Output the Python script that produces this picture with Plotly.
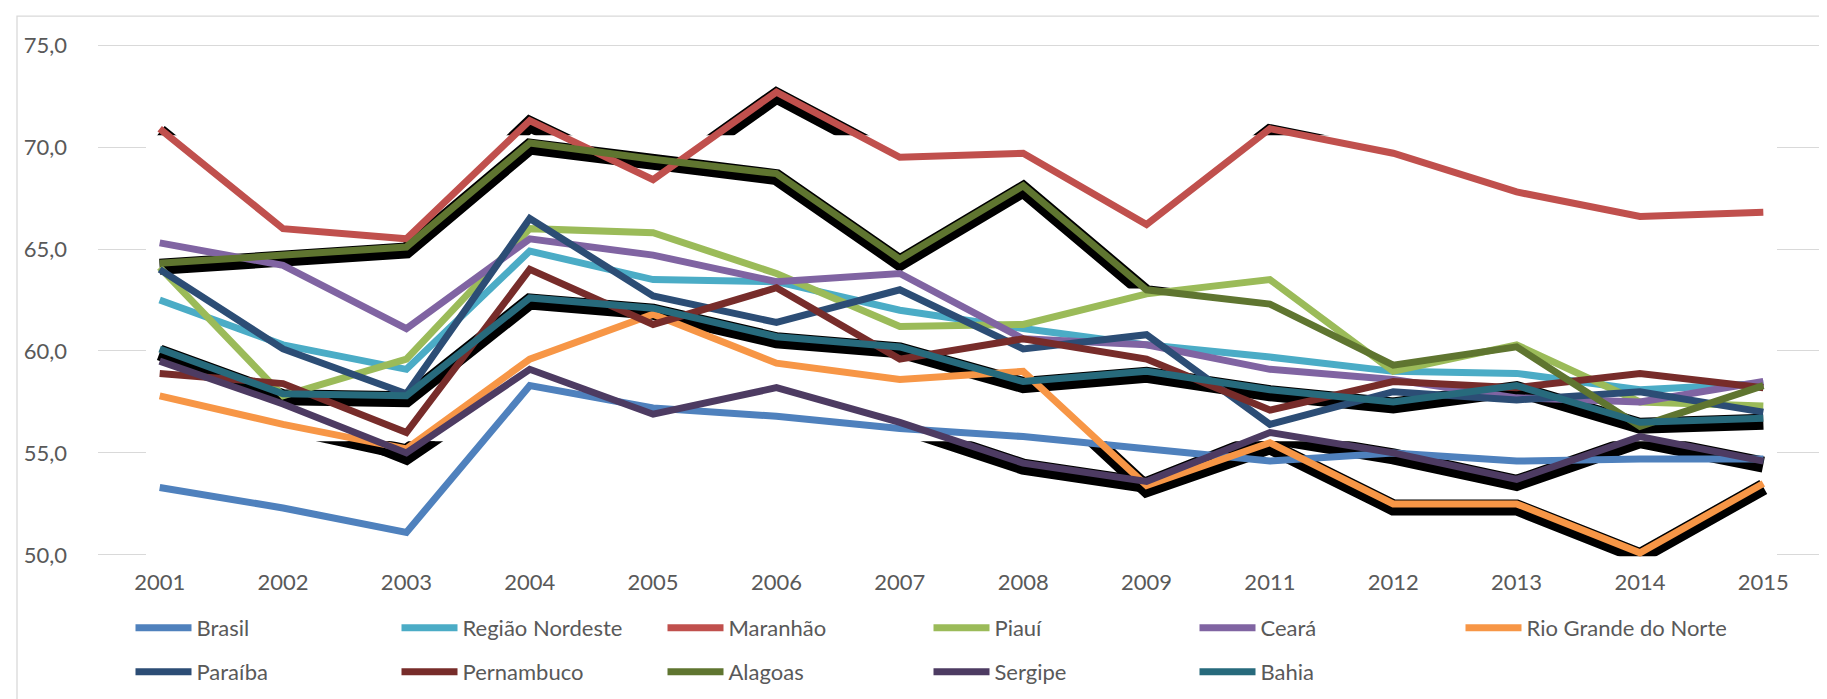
import plotly.graph_objects as go

# ---------------- data ----------------
years = ['2001', '2002', '2003', '2004', '2005', '2006', '2007',
         '2008', '2009', '2011', '2012', '2013', '2014', '2015']

brasil = [53.3, 52.3, 51.1, 58.3, 57.2, 56.8, 56.2, 55.8, 55.2, 54.6, 55.0, 54.6, 54.7, 54.7]
regiao_nordeste = [62.5, 60.3, 59.1, 64.9, 63.5, 63.4, 62.0, 61.1, 60.3, 59.7, 59.0, 58.9, 58.1, 58.4]
maranhao = [70.9, 66.0, 65.5, 71.3, 68.4, 72.7, 69.5, 69.7, 66.2, 70.9, 69.7, 67.8, 66.6, 66.8]
piaui = [64.1, 57.8, 59.6, 66.0, 65.8, 63.8, 61.2, 61.3, 62.8, 63.5, 59.0, 60.3, 57.5, 57.3]
ceara = [65.3, 64.2, 61.1, 65.5, 64.7, 63.4, 63.8, 60.6, 60.3, 59.1, 58.6, 57.7, 57.5, 58.5]
rio_grande_do_norte = [57.8, 56.4, 55.2, 59.6, 61.8, 59.4, 58.6, 59.0, 53.4, 55.5, 52.5, 52.5, 50.1, 53.5]
paraiba = [64.0, 60.1, 57.9, 66.5, 62.7, 61.4, 63.0, 60.1, 60.8, 56.4, 58.0, 57.6, 58.0, 57.0]
pernambuco = [58.9, 58.4, 56.0, 64.0, 61.3, 63.1, 59.6, 60.6, 59.6, 57.1, 58.5, 58.2, 58.9, 58.2]
alagoas = [64.3, 64.7, 65.1, 70.2, 69.4, 68.7, 64.5, 68.1, 63.0, 62.3, 59.3, 60.2, 56.3, 58.3]
sergipe = [59.5, 57.4, 55.0, 59.1, 56.9, 58.2, 56.5, 54.5, 53.6, 56.0, 55.0, 53.7, 55.8, 54.6]
bahia = [60.1, 57.9, 57.8, 62.6, 62.1, 60.7, 60.2, 58.5, 59.0, 58.1, 57.5, 58.3, 56.5, 56.7]

series_names = ['Brasil', 'Região Nordeste', 'Maranhão', 'Piauí', 'Ceará',
                'Rio Grande do Norte', 'Paraíba', 'Pernambuco', 'Alagoas',
                'Sergipe', 'Bahia']
series_values = [brasil, regiao_nordeste, maranhao, piaui, ceara,
                 rio_grande_do_norte, paraiba, pernambuco, alagoas,
                 sergipe, bahia]
series_colors = ['#4F81BD', '#4BACC6', '#C0504D', '#9BBB59', '#8064A2',
                 '#F79646', '#2C4D75', '#772C2A', '#5F7530', '#4D3B62',
                 '#276A7C']

y_tick_values = [50, 55, 60, 65, 70, 75]

# ---------------- geometry ----------------
W, H = 1827, 699
Y_MIN, Y_MAX = 49.6, 75.4
ML, MR, MT, MB = 90, 10, 28.85, 144.35
plot_w = W - ML - MR
plot_h = H - MT - MB
units_per_px = (Y_MAX - Y_MIN) / plot_h
SHADOW_OFFSET = 3.5 * units_per_px


def dom(lo, hi):
    return [(lo - Y_MIN) / (Y_MAX - Y_MIN), (hi - Y_MIN) / (Y_MAX - Y_MIN)]


def py(px):  # pixel row -> paper y
    return (H - MB - px) / plot_h


def pxx(px):  # pixel column -> paper x
    return (px - ML) / plot_w


FONT = 'Lato'
TXT = '#595959'
GRID = '#D9D9D9'

fig = go.Figure()

# black drop shadows, visible only inside certain horizontal bands (as in the original)
shadow_specs = [
    ('Bahia', 'y'),
    ('Maranhão', 'y2'),
    ('Alagoas', 'y3'),
    ('Sergipe', 'y4'),
    ('Rio Grande do Norte', 'y4'),
]
for name, yax in shadow_specs:
    vals = series_values[series_names.index(name)]
    fig.add_trace(go.Scatter(
        x=years, y=[v - SHADOW_OFFSET for v in vals], mode='lines',
        line=dict(color='black', width=16), yaxis=yax, xaxis='x',
        showlegend=False, hoverinfo='skip'))

# coloured series
for i, (name, vals, col) in enumerate(zip(series_names, series_values, series_colors)):
    fig.add_trace(go.Scatter(
        x=years, y=vals, mode='lines', name=name,
        line=dict(color=col, width=7), yaxis='y5', xaxis='x',
        legend='legend' if i < 6 else 'legend2'))

band_axis = dict(visible=False, showgrid=False, zeroline=False, anchor='x', fixedrange=True)

legend_common = dict(orientation='h', xanchor='left', yanchor='middle',
                     bgcolor='rgba(0,0,0,0)', itemwidth=56, entrywidth=195,
                     entrywidthmode='pixels', traceorder='normal',
                     font=dict(family=FONT, size=22, color=TXT))

fig.update_layout(
    width=W, height=H,
    margin=dict(l=ML, r=MR, t=MT, b=MB, pad=0),
    paper_bgcolor='white', plot_bgcolor='rgba(0,0,0,0)',
    separators=',.',
    font=dict(family=FONT, size=20, color=TXT),
    xaxis=dict(type='category', range=[-0.5, len(years) - 0.5], showgrid=False,
               zeroline=False, showline=False, ticks='', anchor='y',
               tickfont=dict(family=FONT, size=22, color=TXT), ticklabelstandoff=4),
    # short gridline stubs at both ends of the plot (inside ticks, mirrored)
    yaxis=dict(range=[Y_MIN, Y_MAX], tickvals=y_tick_values, tickformat='.1f',
               showgrid=False, zeroline=False, showline=False,
               ticks='inside', ticklen=48, tickwidth=1.3, tickcolor=GRID,
               mirror='ticks', anchor='x', layer='below traces',
               tickfont=dict(family=FONT, size=22, color=TXT), ticklabelstandoff=30),
    # full-width top gridline
    yaxis6=dict(overlaying='y', range=[Y_MIN, Y_MAX], tickvals=y_tick_values[-1:],
                showgrid=True, gridcolor=GRID, gridwidth=1.3, zeroline=False,
                showline=False, ticks='', showticklabels=False, anchor='x'),
    yaxis2=dict(band_axis, domain=dom(70.58, Y_MAX), range=[70.58, Y_MAX]),
    yaxis3=dict(band_axis, domain=dom(63.07, Y_MAX), range=[63.07, Y_MAX]),
    yaxis4=dict(band_axis, domain=dom(49.93, 55.57), range=[49.93, 55.57]),
    yaxis5=dict(band_axis, domain=[0, 1], range=[Y_MIN, Y_MAX]),
    legend=dict(legend_common, x=pxx(122.5), y=py(619.5)),
    legend2=dict(legend_common, x=pxx(122.5), y=py(663.5)),
    hovermode=False,
    shapes=[
        # chart frame
        dict(type='rect', xref='paper', yref='paper',
             x0=pxx(9), x1=1.2, y0=-0.6, y1=py(8),
             line=dict(color=GRID, width=1.3), fillcolor='rgba(0,0,0,0)', layer='below'),
    ],
)

# invisible trace so that the overlay axis carrying the top gridline is laid out
fig.add_trace(go.Scatter(x=years[:1], y=y_tick_values[-1:], yaxis='y6', mode='markers',
                         marker=dict(opacity=0), showlegend=False, hoverinfo='skip'))

fig.write_html('out.html', config={'displayModeBar': False})
